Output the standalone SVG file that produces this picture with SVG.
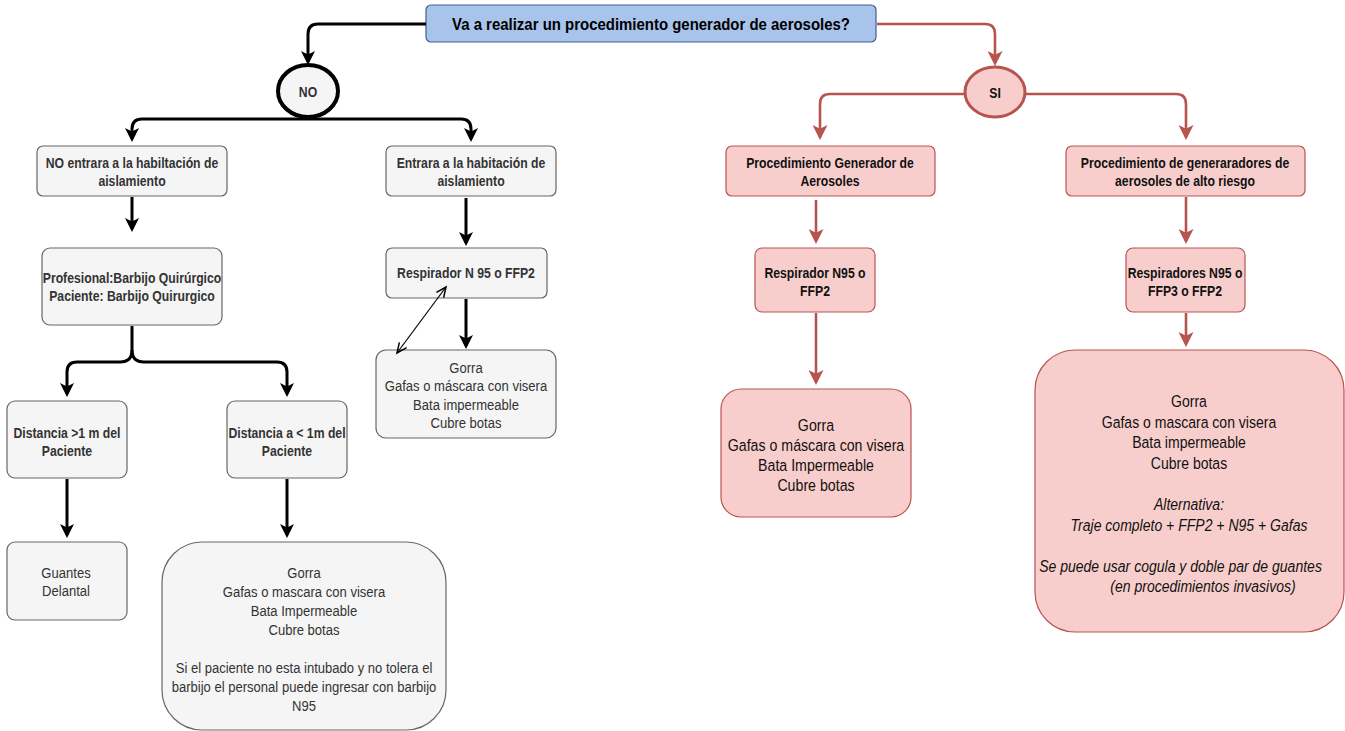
<svg xmlns="http://www.w3.org/2000/svg" width="1345" height="731" viewBox="0 0 1345 731">
  <style>
    text { font-family: "Liberation Sans", Arial, Helvetica, sans-serif; text-anchor: middle; }
    .b { font-weight: bold; font-size: 15px; fill: #333333; }
    .br { font-weight: bold; font-size: 15px; fill: #111111; }
    .n { font-size: 15px; fill: #333333; }
    .nr { font-size: 16.5px; fill: #111111; }
    .it { font-style: italic; }
    .gray { fill: #f5f5f5; stroke: #666666; stroke-width: 1.2; }
    .red { fill: #f8cecc; stroke: #b85450; stroke-width: 1.2; }
    .lk { fill: none; stroke: #000000; stroke-width: 3; marker-end: url(#ak); }
    .lr { fill: none; stroke: #b85450; stroke-width: 2.6; marker-end: url(#ar); }
  </style>
  <defs>
    <marker id="ak" markerUnits="userSpaceOnUse" viewBox="0 0 14 14" markerWidth="14" markerHeight="14" refX="11" refY="7" orient="auto">
      <path d="M0,0 L14,7 L0,14 L3.5,7 Z" fill="#000000"/>
    </marker>
    <marker id="ar" markerUnits="userSpaceOnUse" viewBox="0 0 15 15" markerWidth="15" markerHeight="15" refX="12" refY="7.5" orient="auto">
      <path d="M0,0 L15,7.5 L0,15 L3.75,7.5 Z" fill="#b85450"/>
    </marker>
    <marker id="ao" markerUnits="userSpaceOnUse" viewBox="0 0 12 12" markerWidth="12" markerHeight="12" refX="11" refY="6" orient="auto-start-reverse" overflow="visible">
      <path d="M1,1.5 L11,6 L1,10.5" fill="none" stroke="#000000" stroke-width="1.5"/>
    </marker>
  </defs>

  <!-- question -->
  <g id="pregunta">
    <rect x="426" y="5" width="450" height="37" rx="5" fill="#a9c4eb" stroke="#3f5f8f" stroke-width="1.2"/>
    <text transform="matrix(0.88 0 0 1 651 0)" style="font-weight:bold;font-size:17px;fill:#000000"><tspan x="0" y="30">Va a realizar un procedimiento generador de aerosoles?</tspan></text>
  </g>

  <g id="no">
    <ellipse cx="308" cy="91" rx="30" ry="26" fill="#f5f5f5" stroke="#000000" stroke-width="4"/>
    <text class="b" transform="matrix(0.815 0 0 1 308 0)"><tspan x="0" y="97">NO</tspan></text>
  </g>

  <g id="no-entrar">
    <rect class="gray" x="37" y="146" width="190" height="50" rx="6"/>
    <text class="b" transform="matrix(0.815 0 0 1 132 0)"><tspan x="0" y="168">NO entrara a la habiltación de</tspan><tspan x="0" y="186">aislamiento</tspan></text>
  </g>

  <g id="entrar">
    <rect class="gray" x="386" y="146" width="170" height="50" rx="6"/>
    <text class="b" transform="matrix(0.815 0 0 1 471 0)"><tspan x="0" y="168">Entrara a la habitación de</tspan><tspan x="0" y="186">aislamiento</tspan></text>
  </g>

  <g id="barbijo">
    <rect class="gray" x="42" y="248" width="180" height="77" rx="8"/>
    <text class="b" transform="matrix(0.815 0 0 1 132 0)"><tspan x="0" y="283">Profesional:Barbijo Quirúrgico</tspan><tspan x="0" y="301">Paciente: Barbijo Quirurgico</tspan></text>
  </g>

  <g id="respirador-n95">
    <rect class="gray" x="386" y="248" width="161" height="50" rx="6"/>
    <text class="b" transform="matrix(0.815 0 0 1 466 0)"><tspan x="0" y="278">Respirador N 95 o FFP2</tspan></text>
  </g>

  <g id="equipo-aislamiento">
    <rect class="gray" x="376" y="350" width="180" height="88" rx="10"/>
    <text class="n" transform="matrix(0.87 0 0 1 466 0)"><tspan x="0" y="373">Gorra</tspan><tspan x="0" y="391.5">Gafas o máscara con visera</tspan><tspan x="0" y="410">Bata impermeable</tspan><tspan x="0" y="428.5">Cubre botas</tspan></text>
  </g>

  <g id="distancia-mayor">
    <rect class="gray" x="7" y="401" width="120" height="77" rx="8"/>
    <text class="b" transform="matrix(0.815 0 0 1 67 0)"><tspan x="0" y="438">Distancia &gt;1 m del</tspan><tspan x="0" y="456">Paciente</tspan></text>
  </g>

  <g id="distancia-menor">
    <rect class="gray" x="227" y="401" width="120" height="77" rx="8"/>
    <text class="b" transform="matrix(0.815 0 0 1 287 0)"><tspan x="0" y="438">Distancia a &lt; 1m del</tspan><tspan x="0" y="456">Paciente</tspan></text>
  </g>

  <g id="guantes">
    <rect class="gray" x="7" y="542" width="120" height="78" rx="8"/>
    <text class="n" transform="matrix(0.87 0 0 1 66 0)"><tspan x="0" y="578">Guantes</tspan><tspan x="0" y="596">Delantal</tspan></text>
  </g>

  <g id="equipo-cercano">
    <rect class="gray" x="162" y="542" width="284" height="188" rx="40"/>
    <text class="n" transform="matrix(0.87 0 0 1 304 0)"><tspan x="0" y="578">Gorra</tspan><tspan x="0" y="597">Gafas o mascara con visera</tspan><tspan x="0" y="616">Bata Impermeable</tspan><tspan x="0" y="635">Cubre botas</tspan><tspan x="0" y="673">Si el paciente no esta intubado y no tolera el</tspan><tspan x="0" y="692">barbijo el personal puede ingresar con barbijo</tspan><tspan x="0" y="711">N95</tspan></text>
  </g>

  <g id="si">
    <ellipse cx="995" cy="92" rx="30" ry="25" fill="#f8cecc" stroke="#b85450" stroke-width="3"/>
    <text class="br" transform="matrix(0.815 0 0 1 995 0)"><tspan x="0" y="98">SI</tspan></text>
  </g>

  <g id="procedimiento">
    <rect class="red" x="726" y="146" width="209" height="50" rx="6"/>
    <text class="br" transform="matrix(0.815 0 0 1 830 0)"><tspan x="0" y="168">Procedimiento Generador de</tspan><tspan x="0" y="186">Aerosoles</tspan></text>
  </g>

  <g id="procedimiento-alto-riesgo">
    <rect class="red" x="1066" y="146" width="239" height="50" rx="6"/>
    <text class="br" transform="matrix(0.815 0 0 1 1185 0)"><tspan x="0" y="168">Procedimiento de generaradores de</tspan><tspan x="0" y="186">aerosoles de alto riesgo</tspan></text>
  </g>

  <g id="respirador-ffp2">
    <rect class="red" x="755" y="248" width="120" height="64" rx="7"/>
    <text class="br" transform="matrix(0.815 0 0 1 815 0)"><tspan x="0" y="278">Respirador N95 o</tspan><tspan x="0" y="296">FFP2</tspan></text>
  </g>

  <g id="respiradores-ffp3">
    <rect class="red" x="1126" y="248" width="119" height="64" rx="7"/>
    <text class="br" transform="matrix(0.815 0 0 1 1185 0)"><tspan x="0" y="278">Respiradores N95 o</tspan><tspan x="0" y="296">FFP3 o FFP2</tspan></text>
  </g>

  <g id="equipo-generador">
    <rect class="red" x="721" y="389" width="190" height="128" rx="20"/>
    <text class="nr" transform="matrix(0.86 0 0 1 816 0)"><tspan x="0" y="431">Gorra</tspan><tspan x="0" y="451">Gafas o máscara con visera</tspan><tspan x="0" y="471">Bata Impermeable</tspan><tspan x="0" y="491">Cubre botas</tspan></text>
  </g>

  <g id="equipo-alto-riesgo">
    <rect class="red" x="1035" y="350" width="309" height="282" rx="40"/>
    <text class="nr" transform="matrix(0.85 0 0 1 1189 0)"><tspan x="0" y="407">Gorra</tspan><tspan x="0" y="427.6">Gafas o mascara con visera</tspan><tspan x="0" y="448.2">Bata impermeable</tspan><tspan x="0" y="468.8">Cubre botas</tspan><tspan class="it" x="0" y="510">Alternativa:</tspan><tspan class="it" x="0" y="530.6">Traje completo + FFP2 + N95 + Gafas</tspan><tspan class="it" x="-10" y="571.8">Se puede usar cogula y doble par de guantes</tspan></text>
    <text class="nr it" transform="matrix(0.85 0 0 1 1203 0)"><tspan x="0" y="592.4">(en procedimientos invasivos)</tspan></text>
  </g>

  <!-- connectors, drawn over the boxes -->
  <g id="connectors">
    <!-- NO branch -->
    <path class="lk" d="M426,24 H318 Q308,24 308,34 V62"/>
    <path class="lk" d="M308,119 H142 Q132,119 132,129 V139"/>
    <path class="lk" d="M308,119 H461 Q471,119 471,129 V139"/>
    <path class="lk" d="M132,197 V229"/>
    <path class="lk" d="M466,198 V243"/>
    <path class="lk" d="M466,299 V346"/>
    <line x1="446" y1="287" x2="397" y2="353" stroke="#000000" stroke-width="1.2" marker-start="url(#ao)" marker-end="url(#ao)"/>
    <path class="lk" d="M132,326 V350 Q132,362 120,362 H77 Q67,362 67,372 V394"/>
    <path class="lk" d="M132,350 Q132,362 144,362 H277 Q287,362 287,372 V394"/>
    <path class="lk" d="M67,479 V535"/>
    <path class="lk" d="M287,479 V535"/>
    <!-- SI branch -->
    <path class="lr" d="M877,24 H985 Q995,24 995,34 V63"/>
    <path class="lr" d="M965,94 H830 Q820,94 820,104 V137"/>
    <path class="lr" d="M1025,94 H1176 Q1186,94 1186,104 V137"/>
    <path class="lr" d="M816,200 V241"/>
    <path class="lr" d="M1186,197 V241"/>
    <path class="lr" d="M816,313 V382"/>
    <path class="lr" d="M1186,313 V344"/>
  </g>
</svg>
